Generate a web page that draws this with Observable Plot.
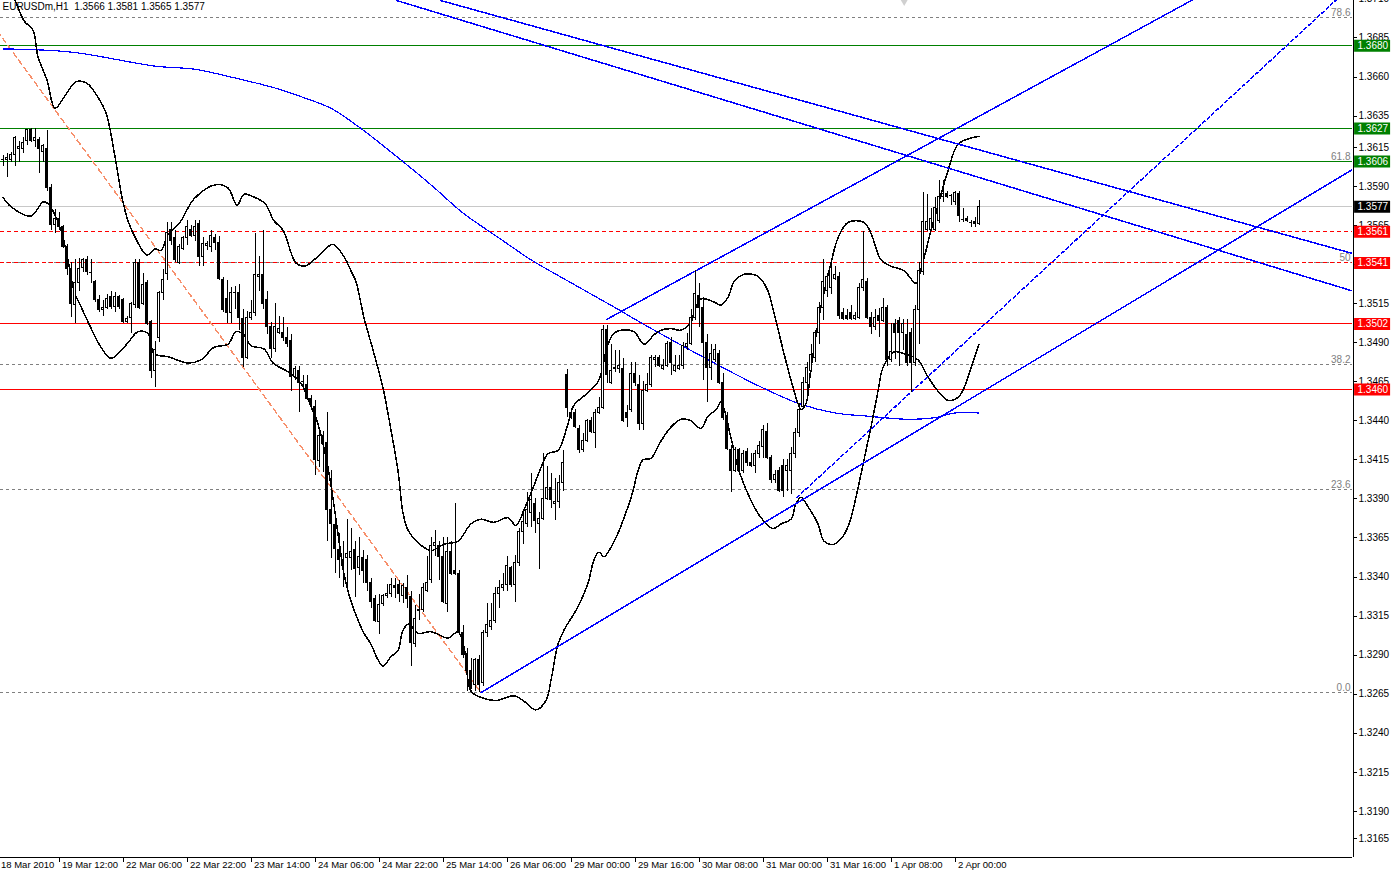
<!DOCTYPE html>
<html>
<head>
<meta charset="utf-8">
<script src="https://cdn.jsdelivr.net/npm/d3@7"></script>
<script src="https://cdn.jsdelivr.net/npm/@observablehq/plot@0.6"></script>
<style>
html,body{margin:0;padding:0;background:#fff;}
#chart{width:1393px;height:877px;overflow:hidden;}
</style>
</head>
<body>
<div id="chart"></div>
<script>
const symbol = "EURUSDm", period = "H1";

// Hourly OHLC, bar 0 = 18 Mar 2010 (left edge) ... bar 244 = last bar of 2 Apr
const open = [
1.3607,1.3607,1.3607,1.3610,1.3614,1.3614,1.3619,1.3626,1.3619,1.3620,
1.3612,1.3614,1.3589,1.3565,1.3569,1.3564,1.3551,1.3537,1.3514,1.3528,
1.3538,1.3543,1.3535,1.3529,1.3517,1.3511,1.3512,1.3519,1.3513,1.3519,
1.3517,1.3503,1.3506,1.3514,1.3541,1.3515,1.3528,1.3503,1.3472,1.3493,
1.3522,1.3534,1.3562,1.3557,1.3541,1.3550,1.3557,1.3562,1.3558,1.3566,
1.3545,1.3552,1.3551,1.3557,1.3554,1.3530,1.3518,1.3509,1.3522,1.3522,
1.3505,1.3480,1.3506,1.3509,1.3532,1.3533,1.3517,1.3500,1.3486,1.3496,
1.3496,1.3493,1.3491,1.3468,1.3472,1.3465,1.3463,1.3454,1.3449,1.3414,
1.3430,1.3426,1.3383,1.3373,1.3357,1.3351,1.3352,1.3352,1.3357,1.3346,
1.3352,1.3351,1.3336,1.3326,1.3311,1.3323,1.3328,1.3329,1.3334,1.3335,
1.3328,1.3333,1.3327,1.3297,1.3319,1.3319,1.3331,1.3338,1.3360,1.3360,
1.3353,1.3323,1.3356,1.3344,1.3342,1.3304,1.3291,1.3280,1.3271,1.3287,
1.3272,1.3304,1.3308,1.3312,1.3329,1.3333,1.3335,1.3346,1.3335,1.3349,
1.3369,1.3374,1.3381,1.3387,1.3374,1.3377,1.3390,1.3397,1.3387,1.3388,
1.3400,1.3469,1.3445,1.3445,1.3435,1.3421,1.3427,1.3440,1.3432,1.3445,
1.3448,1.3498,1.3464,1.3473,1.3473,1.3473,1.3445,1.3447,1.3470,1.3463,
1.3438,1.3459,1.3463,1.3479,1.3480,1.3473,1.3475,1.3490,1.3472,1.3473,
1.3475,1.3487,1.3489,1.3506,1.3520,1.3512,1.3490,1.3474,1.3479,1.3483,
1.3464,1.3442,1.3421,1.3408,1.3421,1.3408,1.3420,1.3413,1.3411,1.3419,
1.3423,1.3433,1.3416,1.3402,1.3408,1.3411,1.3408,1.3408,1.3419,1.3432,
1.3449,1.3464,1.3472,1.3480,1.3496,1.3512,1.3523,1.3525,1.3531,1.3532,
1.3509,1.3507,1.3509,1.3505,1.3506,1.3525,1.3529,1.3506,1.3500,1.3507,
1.3504,1.3512,1.3479,1.3502,1.3504,1.3496,1.3495,1.3496,1.3477,1.3511,
1.3535,1.3562,1.3562,1.3562,1.3568,1.3583,1.3585,1.3584,1.3580,1.3585,
1.3569,1.3569,1.3567,1.3567,1.3566];
const high = [
1.3610,1.3611,1.3612,1.3622,1.3619,1.3621,1.3626,1.3627,1.3627,1.3621,
1.3617,1.3626,1.3591,1.3575,1.3573,1.3565,1.3553,1.3541,1.3543,1.3544,
1.3544,1.3545,1.3543,1.3530,1.3520,1.3517,1.3521,1.3523,1.3522,1.3520,
1.3518,1.3507,1.3516,1.3543,1.3543,1.3534,1.3530,1.3504,1.3491,1.3523,
1.3537,1.3567,1.3567,1.3562,1.3553,1.3558,1.3568,1.3565,1.3568,1.3568,
1.3557,1.3555,1.3562,1.3559,1.3558,1.3532,1.3530,1.3525,1.3526,1.3527,
1.3511,1.3510,1.3517,1.3560,1.3545,1.3562,1.3523,1.3503,1.3515,1.3507,
1.3506,1.3500,1.3495,1.3475,1.3475,1.3469,1.3469,1.3456,1.3453,1.3433,
1.3433,1.3445,1.3408,1.3377,1.3368,1.3363,1.3377,1.3371,1.3363,1.3365,
1.3357,1.3354,1.3339,1.3328,1.3329,1.3329,1.3335,1.3339,1.3339,1.3338,
1.3336,1.3341,1.3331,1.3322,1.3329,1.3336,1.3353,1.3365,1.3370,1.3363,
1.3365,1.3365,1.3363,1.3387,1.3344,1.3309,1.3294,1.3288,1.3288,1.3290,
1.3306,1.3323,1.3323,1.3333,1.3338,1.3342,1.3353,1.3347,1.3354,1.3371,
1.3383,1.3394,1.3406,1.3390,1.3381,1.3419,1.3411,1.3406,1.3403,1.3405,
1.3421,1.3473,1.3448,1.3447,1.3437,1.3432,1.3441,1.3442,1.3447,1.3455,
1.3501,1.3501,1.3489,1.3485,1.3485,1.3480,1.3450,1.3477,1.3477,1.3469,
1.3465,1.3470,1.3482,1.3482,1.3482,1.3479,1.3491,1.3493,1.3482,1.3482,
1.3490,1.3496,1.3511,1.3536,1.3528,1.3519,1.3495,1.3489,1.3489,1.3485,
1.3470,1.3445,1.3424,1.3423,1.3422,1.3421,1.3422,1.3419,1.3421,1.3427,
1.3437,1.3438,1.3418,1.3408,1.3410,1.3415,1.3415,1.3423,1.3435,1.3451,
1.3468,1.3477,1.3489,1.3498,1.3516,1.3543,1.3534,1.3543,1.3539,1.3535,
1.3512,1.3511,1.3514,1.3509,1.3528,1.3561,1.3531,1.3509,1.3511,1.3512,
1.3518,1.3514,1.3502,1.3505,1.3506,1.3505,1.3505,1.3499,1.3514,1.3541,
1.3586,1.3585,1.3576,1.3583,1.3594,1.3594,1.3587,1.3585,1.3587,1.3587,
1.3576,1.3571,1.3568,1.3570,1.3581];
const low = [
1.3603,1.3596,1.3605,1.3603,1.3605,1.3611,1.3616,1.3618,1.3615,1.3598,
1.3605,1.3587,1.3562,1.3560,1.3562,1.3550,1.3533,1.3506,1.3502,1.3523,
1.3535,1.3533,1.3528,1.3516,1.3509,1.3507,1.3511,1.3511,1.3509,1.3511,
1.3502,1.3502,1.3496,1.3512,1.3511,1.3514,1.3501,1.3467,1.3461,1.3490,
1.3517,1.3530,1.3552,1.3541,1.3540,1.3549,1.3552,1.3557,1.3555,1.3539,
1.3539,1.3549,1.3548,1.3549,1.3530,1.3509,1.3502,1.3502,1.3511,1.3498,
1.3474,1.3479,1.3504,1.3507,1.3523,1.3511,1.3495,1.3480,1.3484,1.3495,
1.3491,1.3487,1.3459,1.3466,1.3445,1.3461,1.3453,1.3448,1.3405,1.3410,
1.3407,1.3363,1.3352,1.3342,1.3339,1.3333,1.3331,1.3344,1.3327,1.3341,
1.3336,1.3331,1.3320,1.3311,1.3303,1.3321,1.3326,1.3327,1.3326,1.3324,
1.3323,1.3320,1.3283,1.3295,1.3312,1.3317,1.3330,1.3336,1.3353,1.3338,
1.3323,1.3317,1.3341,1.3341,1.3303,1.3288,1.3267,1.3268,1.3267,1.3266,
1.3270,1.3301,1.3306,1.3310,1.3320,1.3331,1.3331,1.3333,1.3324,1.3347,
1.3361,1.3372,1.3372,1.3368,1.3345,1.3376,1.3389,1.3384,1.3376,1.3384,
1.3395,1.3442,1.3441,1.3435,1.3419,1.3420,1.3426,1.3432,1.3422,1.3444,
1.3447,1.3464,1.3463,1.3471,1.3470,1.3439,1.3436,1.3445,1.3462,1.3434,
1.3434,1.3458,1.3461,1.3474,1.3474,1.3472,1.3474,1.3469,1.3471,1.3472,
1.3473,1.3485,1.3488,1.3504,1.3500,1.3466,1.3452,1.3466,1.3477,1.3463,
1.3440,1.3421,1.3394,1.3407,1.3405,1.3406,1.3411,1.3410,1.3406,1.3416,
1.3416,1.3415,1.3400,1.3400,1.3394,1.3391,1.3395,1.3393,1.3416,1.3429,
1.3447,1.3457,1.3471,1.3477,1.3489,1.3504,1.3519,1.3521,1.3530,1.3505,
1.3504,1.3504,1.3504,1.3504,1.3505,1.3523,1.3505,1.3495,1.3498,1.3493,
1.3503,1.3475,1.3477,1.3479,1.3475,1.3485,1.3475,1.3458,1.3475,1.3489,
1.3533,1.3561,1.3561,1.3561,1.3566,1.3580,1.3582,1.3578,1.3578,1.3567,
1.3567,1.3567,1.3564,1.3564,1.3565];
const close = [
1.3607,1.3608,1.3610,1.3621,1.3615,1.3618,1.3626,1.3619,1.3621,1.3614,
1.3616,1.3589,1.3565,1.3569,1.3564,1.3551,1.3537,1.3515,1.3528,1.3537,
1.3543,1.3535,1.3535,1.3517,1.3511,1.3512,1.3518,1.3513,1.3519,1.3513,
1.3503,1.3505,1.3515,1.3541,1.3512,1.3527,1.3502,1.3472,1.3485,1.3522,
1.3530,1.3560,1.3555,1.3543,1.3551,1.3557,1.3564,1.3558,1.3564,1.3545,
1.3553,1.3553,1.3558,1.3554,1.3531,1.3511,1.3509,1.3522,1.3522,1.3506,
1.3480,1.3506,1.3509,1.3533,1.3533,1.3515,1.3500,1.3486,1.3500,1.3499,
1.3493,1.3489,1.3468,1.3473,1.3464,1.3465,1.3454,1.3450,1.3415,1.3430,
1.3425,1.3383,1.3374,1.3358,1.3351,1.3347,1.3355,1.3356,1.3345,1.3353,
1.3344,1.3336,1.3324,1.3312,1.3322,1.3328,1.3329,1.3335,1.3333,1.3329,
1.3334,1.3326,1.3298,1.3313,1.3318,1.3333,1.3336,1.3360,1.3362,1.3353,
1.3324,1.3356,1.3342,1.3342,1.3304,1.3290,1.3280,1.3269,1.3287,1.3271,
1.3304,1.3309,1.3312,1.3329,1.3333,1.3335,1.3347,1.3335,1.3349,1.3369,
1.3375,1.3383,1.3389,1.3376,1.3377,1.3390,1.3397,1.3389,1.3388,1.3400,
1.3413,1.3448,1.3442,1.3436,1.3421,1.3427,1.3440,1.3433,1.3445,1.3448,
1.3498,1.3469,1.3472,1.3474,1.3475,1.3440,1.3442,1.3470,1.3464,1.3438,
1.3459,1.3463,1.3480,1.3480,1.3475,1.3475,1.3489,1.3477,1.3475,1.3475,
1.3488,1.3489,1.3506,1.3521,1.3512,1.3490,1.3474,1.3483,1.3485,1.3464,
1.3442,1.3422,1.3408,1.3421,1.3408,1.3419,1.3413,1.3411,1.3419,1.3424,
1.3434,1.3416,1.3402,1.3405,1.3395,1.3395,1.3411,1.3419,1.3432,1.3447,
1.3464,1.3474,1.3482,1.3496,1.3512,1.3529,1.3532,1.3538,1.3533,1.3507,
1.3505,1.3505,1.3505,1.3507,1.3525,1.3530,1.3506,1.3500,1.3506,1.3504,
1.3512,1.3479,1.3484,1.3496,1.3496,1.3502,1.3477,1.3477,1.3511,1.3536,
1.3567,1.3567,1.3569,1.3576,1.3583,1.3585,1.3583,1.3584,1.3586,1.3571,
1.3569,1.3568,1.3567,1.3566,1.3577];

// Moving average (blue), read at bar indices
const maIndex = [0,17,38,48,57,68,75,82,89,98,107,115,124,132,136,154,160,180,190,199,208,216,226,233,238,244];
const maValue = [1.3678,1.3676,1.3667,1.3665,1.3660,1.3653,1.3647,1.3640,1.3628,1.3610,1.3591,1.3573,1.3557,1.3543,1.3537,1.3511,1.3502,1.3474,1.3461,1.3451,1.3445,1.3443,1.3441,1.3442,1.3445,1.3445];

// Bands (black), [bar index, price]
const upperBand = [[0,1.3722],[3,1.3709],[5.25,1.3696],[7.5,1.3690],[8.75,1.3673],[11,1.3658],[13,1.3640],[15.5,1.3648],[18.25,1.3657],[21,1.3656],[23.5,1.3648],[25.75,1.3637],[28,1.3609],[29.75,1.3583],[31.25,1.3568],[33.5,1.3555],[36,1.3546],[38,1.3550],[39.5,1.3549],[41.25,1.3559],[44.25,1.3567],[47.75,1.3582],[53,1.3591],[56.25,1.3589],[58.5,1.3578],[60.25,1.3585],[62,1.3584],[65.5,1.3579],[67.75,1.3568],[70,1.3562],[73.25,1.3541],[75.5,1.3539],[77.75,1.3543],[80.25,1.3549],[82.5,1.3553],[85.25,1.3545],[87,1.3536],[88.25,1.3529],[90.25,1.3506],[92.75,1.3483],[95,1.3461],[97,1.3434],[98.75,1.3408],[100,1.3381],[101.25,1.3370],[103.75,1.3362],[107,1.3357],[110.25,1.3361],[113.75,1.3363],[117,1.3374],[119.5,1.3377],[122.75,1.3375],[126.25,1.3378],[128.25,1.3373],[130.25,1.3383],[132.5,1.3397],[134.5,1.3410],[136.25,1.3419],[138.75,1.3421],[141.25,1.3438],[142.75,1.3450],[146.25,1.3458],[148.75,1.3465],[149.5,1.3470],[151.25,1.3489],[152.75,1.3496],[154.5,1.3498],[157.75,1.3497],[160.25,1.3489],[162.75,1.3495],[164.5,1.3498],[167,1.3499],[169.5,1.3498],[172,1.3503],[172.75,1.3509],[174.5,1.3518],[177.75,1.3516],[179.5,1.3514],[181.25,1.3519],[182.75,1.3529],[184.5,1.3533],[187,1.3534],[189,1.3532],[191.25,1.3523],[192.75,1.3509],[194,1.3496],[195.25,1.3483],[197,1.3466],[198.75,1.3451],[199.5,1.3447],[200.75,1.3451],[202,1.3474],[204.5,1.3513],[207,1.3541],[208.75,1.3557],[211.25,1.3567],[215.25,1.3567],[217,1.3560],[219.5,1.3543],[222,1.3539],[225.25,1.3536],[228.25,1.3528],[229.5,1.3537],[230.75,1.3549],[232,1.3562],[233.25,1.3573],[234.5,1.3585],[236.25,1.3600],[238.75,1.3617],[242,1.3621],[244,1.3622]];
const lowerBand = [[0,1.3583],[2,1.3577],[7,1.3571],[10,1.3580],[11.25,1.3579],[12.75,1.3573],[14.5,1.3562],[16.25,1.3543],[17.75,1.3523],[19.5,1.3513],[21.5,1.3502],[24.5,1.3487],[27,1.3480],[29.5,1.3485],[31.25,1.3490],[33.75,1.3497],[36.25,1.3496],[37.75,1.3483],[41.25,1.3481],[46.25,1.3477],[49.5,1.3479],[52.75,1.3487],[56.25,1.3489],[58.25,1.3497],[60.25,1.3495],[62,1.3488],[65.25,1.3486],[67.5,1.3477],[71.5,1.3471],[74.5,1.3464],[77,1.3449],[78.25,1.3442],[81.25,1.3410],[85.25,1.3342],[86.25,1.3331],[87.75,1.3319],[90.25,1.3304],[92,1.3297],[93.75,1.3287],[95,1.3283],[97,1.3289],[98.75,1.3293],[100,1.3306],[101.5,1.3310],[103.75,1.3304],[107,1.3305],[111.25,1.3301],[113.75,1.3305],[115.25,1.3295],[117,1.3267],[119.5,1.3263],[123.25,1.3261],[127.75,1.3264],[130,1.3261],[133.25,1.3255],[135.75,1.3261],[137,1.3274],[138.75,1.3297],[140.25,1.3306],[143.75,1.3321],[146.25,1.3336],[147.75,1.3351],[149,1.3356],[150.25,1.3353],[152,1.3359],[153.75,1.3368],[156.25,1.3385],[157.5,1.3395],[158.75,1.3408],[160,1.3415],[162,1.3416],[164.5,1.3427],[167,1.3436],[169.5,1.3441],[172,1.3440],[174.5,1.3435],[176.25,1.3443],[178.25,1.3447],[179.5,1.3452],[182,1.3429],[184,1.3408],[187,1.3389],[189.5,1.3378],[192.5,1.3371],[194.5,1.3374],[197,1.3377],[198.25,1.3387],[199.5,1.3391],[201.25,1.3385],[203.75,1.3374],[205.25,1.3363],[207.75,1.3361],[210.25,1.3367],[212,1.3378],[213.75,1.3397],[215.25,1.3415],[217,1.3436],[218.75,1.3459],[220,1.3474],[222.75,1.3484],[225.25,1.3483],[228.75,1.3479],[231.25,1.3468],[233.75,1.3459],[236.25,1.3453],[238.75,1.3455],[240.25,1.3461],[242,1.3474],[244,1.3489]];

// Drawn objects: [bar index, price] anchors
const resistanceA = [[109.4,1.3709],[337.5,1.3547]];
const resistanceB = [[98.4,1.3709],[337.5,1.3523]];
const channelTop = [[151,1.3505],[310,1.3727]];
const channelBottom = [[119.5,1.3266],[337.5,1.3601]];
const dashedTrend = [[198.5,1.3391],[334,1.3711]];
const fibBase = [[-37.25,1.3815],[119.5,1.3266]];

// Horizontal levels
const greenLevels = [1.3680, 1.3627, 1.3606];
const redDashedLevels = [1.3561, 1.3541];
const redLevels = [1.3502, 1.3460];
const fibLabels = ["0.0","23.6","38.2","50","61.8","78.6"];
const fibPrices = [1.3266, 1.3396, 1.3476, 1.3541, 1.3606, 1.3698];

// Axis ticks
const yTicks = [1.3710,1.3685,1.3660,1.3635,1.3615,1.3590,1.3565,1.3540,1.3515,1.3490,1.3465,1.3440,1.3415,1.3390,1.3365,1.3340,1.3315,1.3290,1.3265,1.3240,1.3215,1.3190];
const yTickBottom = [1.3165];
const xTickIndex = [0,14,30,46,62,78,94,110,126,142,158,174,190,206,222,238];
const xTickLabels = ["18 Mar 2010","19 Mar 12:00","22 Mar 06:00","22 Mar 22:00","23 Mar 14:00","24 Mar 06:00","24 Mar 22:00","25 Mar 14:00","26 Mar 06:00","29 Mar 00:00","29 Mar 16:00","30 Mar 08:00","31 Mar 00:00","31 Mar 16:00","1 Apr 08:00","2 Apr 00:00"];

// ---------- build ----------
const fmt = d => d.toFixed(4);
const bars = open.map((o, i) => ({i, o, h: high[i], l: low[i], c: close[i]}));
const upBars = bars.filter(d => d.c > d.o);
const downBars = bars.filter(d => d.c < d.o);
const dojiBars = bars.filter(d => d.c === d.o);
const last = bars[bars.length - 1];
const maPts = maIndex.map((i, k) => [i, maValue[k]]);
const fibRows = fibPrices.map((p, k) => ({p, label: fibLabels[k]}));
const xLabelRows = xTickIndex.map((i, k) => ({i, label: xTickLabels[k]}));
const title = `${symbol},${period}\u00a0\u00a0${fmt(last.o)} ${fmt(last.h)} ${fmt(last.l)} ${fmt(last.c)}`;

const BLUE = "#0000ff";
const crisp = {shapeRendering: "crispEdges"};
const seg = (pts, opts = {}) => Plot.line(pts, {x: d => d[0], y: d => d[1], clip: true, ...crisp, ...opts});
const boxX1 = () => 337.9, boxX2 = () => 346.9;

const chart = Plot.plot({
  width: 1393,
  height: 877,
  marginLeft: 0,
  marginRight: 41,
  marginTop: 0,
  marginBottom: 20,
  x: {type: "linear", domain: [-0.5, 337.5], range: [0.5, 1352.5], axis: null, label: null},
  y: {type: "linear", domain: [1.31605, 1.3709], range: [857, 0], axis: null, label: null},
  style: {fontFamily: "'Liberation Sans', Arial, sans-serif", fontSize: "10px", background: "#ffffff", color: "#000000"},
  marks: [
    // Fibonacci levels
    Plot.ruleY(fibPrices, {stroke: "#808080", strokeDasharray: "3,3", ...crisp}),
    // bid line
    Plot.ruleY([last.c], {stroke: "#c8c8c8", ...crisp}),
    // horizontal levels
    Plot.ruleY(greenLevels, {stroke: "#008000", ...crisp}),
    Plot.ruleY(redDashedLevels, {stroke: "#ff0000", strokeDasharray: "4,3", ...crisp}),
    Plot.ruleY(redLevels, {stroke: "#ff0000", ...crisp}),
    // fib baseline
    seg(fibBase, {stroke: "#f7906c", strokeDasharray: "5,4"}),
    // moving average
    seg(maPts, {stroke: BLUE, curve: "catmull-rom", strokeWidth: 1.2}),
    // bands
    seg(upperBand, {stroke: "#000", curve: "catmull-rom"}),
    seg(lowerBand, {stroke: "#000", curve: "catmull-rom"}),
    // trendlines
    seg(resistanceA, {stroke: BLUE}),
    seg(resistanceB, {stroke: BLUE}),
    seg(channelTop, {stroke: BLUE}),
    seg(channelBottom, {stroke: BLUE}),
    seg(dashedTrend, {stroke: BLUE, strokeDasharray: "3,3"}),
    // candles
    Plot.ruleX(bars, {x: "i", y1: "l", y2: "h", stroke: "#000", ...crisp}),
    Plot.rect(upBars, {x1: d => d.i - 0.25, x2: d => d.i + 0.25, y1: "o", y2: "c", fill: "#fff", stroke: "#000", ...crisp}),
    Plot.rect(downBars, {x1: d => d.i - 0.25, x2: d => d.i + 0.25, y1: "o", y2: "c", fill: "#000", stroke: "#000", ...crisp}),
    Plot.ruleY(dojiBars, {y: "o", x1: d => d.i - 0.375, x2: d => d.i + 0.375, stroke: "#000", ...crisp}),
    // frame (right and bottom)
    Plot.ruleX([337.5], {stroke: "#000", ...crisp}),
    Plot.ruleY([1.31605], {stroke: "#000", ...crisp}),
    // price axis
    Plot.axisY(yTicks, {anchor: "right", tickSize: 4, tickPadding: 2, tickFormat: fmt, label: null, ...crisp}),
    Plot.axisY(yTickBottom, {anchor: "right", tickSize: 4, tickPadding: 2, tickFormat: fmt, label: null, dy: -12, ...crisp}),
    // time axis
    Plot.axisX(xTickIndex.slice(1), {anchor: "bottom", tickSize: 5, fill: "none", tickFormat: () => "", label: null, ...crisp}),
    Plot.text(xLabelRows.slice(1), {x: "i", text: "label", frameAnchor: "bottom", textAnchor: "start", lineAnchor: "top", dx: 3, dy: 4, fontSize: 9.5}),
    Plot.text(xLabelRows.slice(0, 1), {x: "i", text: "label", frameAnchor: "bottom", textAnchor: "start", lineAnchor: "top", dx: -2, dy: 4, fontSize: 9.5}),
    // fib labels
    Plot.text(fibRows, {y: "p", text: "label", frameAnchor: "right", textAnchor: "end", dx: -2, dy: -5, fill: "#808080"}),
    // price boxes on the scale
    Plot.ruleY(greenLevels, {x1: boxX1, x2: boxX2, stroke: "#008000", strokeWidth: 12}),
    Plot.ruleY([last.c], {x1: boxX1, x2: boxX2, stroke: "#000000", strokeWidth: 12}),
    Plot.ruleY(redDashedLevels.concat(redLevels), {x1: boxX1, x2: boxX2, stroke: "#ff0000", strokeWidth: 12}),
    Plot.text(greenLevels.concat([last.c], redDashedLevels, redLevels), {y: d => d, text: fmt, frameAnchor: "right", textAnchor: "start", dx: 5, fill: "#ffffff"}),
    // chart shift marker
    Plot.dot([0], {x: () => 225.3, frameAnchor: "top", symbol: "triangle", rotate: 180, r: 3.5, fill: "#d0d0d0", stroke: "none"}),
    // title
    Plot.text([title], {text: d => d, frameAnchor: "top-left", textAnchor: "start", lineAnchor: "top", dx: 2, dy: 2, fill: "#000"})
  ]
});

document.getElementById("chart").append(chart);
</script>
</body>
</html>
